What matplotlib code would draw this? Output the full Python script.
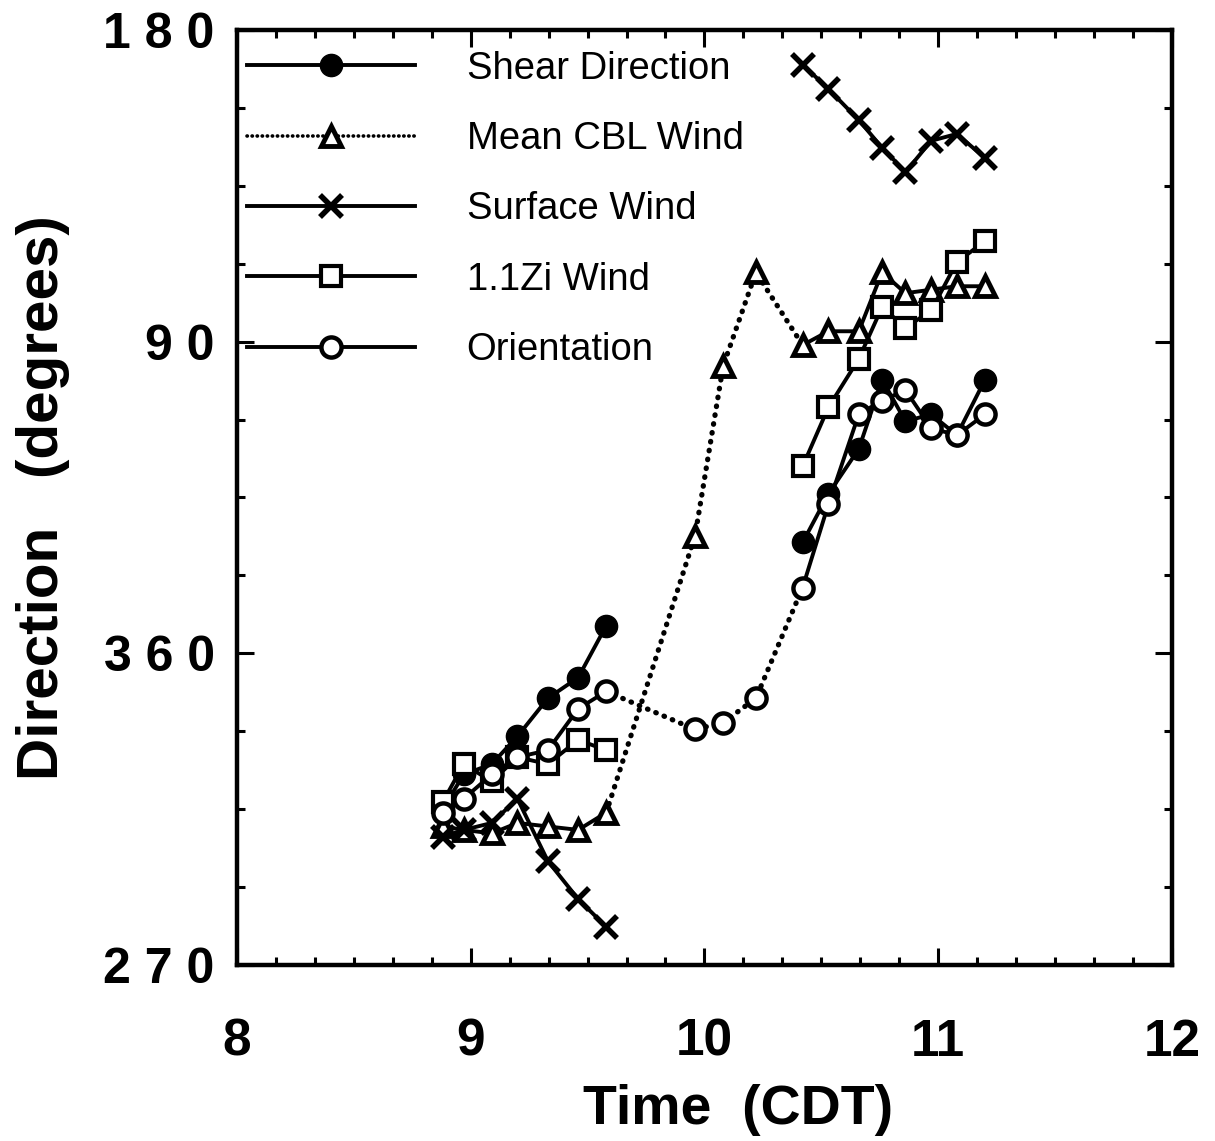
import matplotlib
matplotlib.use("Agg")
import matplotlib.pyplot as plt
import numpy as np
from matplotlib.ticker import MultipleLocator

plt.rcParams['font.family'] = ['Liberation Sans', 'DejaVu Sans']

# times (CDT, decimal hours)
t_am = [8.88, 8.97, 9.09, 9.20, 9.33, 9.46, 9.58]
t_gap = [9.96, 10.08, 10.22]
t_pm = [10.42, 10.53, 10.66, 10.76, 10.86, 10.97, 11.08, 11.20]

# directions (compass degrees)
shear_am = [315, 325, 328, 336, 347, 353, 8]
shear_pm = [32, 46, 59, 79, 67, 69, 63, 79]

cbl_am = [310, 309, 308, 311, 310, 309, 314]
cbl_gap = [34, 83, 110]
cbl_pm = [89, 93, 93, 110, 104, 105, 106, 106]

sfc_am = [307, 309, 311, 318, 300, 289, 281]
sfc_pm = [170, 163, 154, 146, 139, 148, 150, 143]

zi_am = [317, 328, 323, 330, 328, 335, 332]
zi_pm = [54, 71, 85, 100, 94, 99, 113, 119]

orient_am = [314, 318, 325, 330, 332, 344, 349]
orient_gap = [338, 340, 347]
orient_pm = [19, 43, 69, 73, 76, 65, 63, 69]

y_ticks = [270, 360, 450, 540]
y_labels = ["2 7 0", "3 6 0", "9 0", "1 8 0"]
x_ticks = [8, 9, 10, 11, 12]
x_labels = ["8", "9", "10", "11", "12"]


def unwrap(d):
    # directions below 270 continue past 360 (0 -> 360, 90 -> 450 ...)
    d = np.asarray(d, dtype=float)
    return np.where(d < 270, d + 360, d)


fig = plt.figure(figsize=(12.15, 11.41), dpi=100)
ax = fig.add_axes([0.195, 0.1543, 0.7696, 0.8194])

lw = 2.8
solid = dict(color='black', lw=lw)
dots = dict(color='black', lw=3.8, linestyle=(0, (0.1, 1.6)), dash_capstyle='round')
leg_dots = dict(color='black', lw=2.6, linestyle=(0, (0.1, 1.3)), dash_capstyle='round')

m_shear = dict(marker='o', ms=16, mfc='black', mec='black')
m_cbl = dict(marker='^', ms=14, mfc='white', mec='black', mew=3.5)
m_sfc = dict(marker='x', ms=16, mec='black', mew=4)
m_zi = dict(marker='s', ms=15, mfc='white', mec='black', mew=3)
m_or = dict(marker='o', ms=14.5, mfc='white', mec='black', mew=3.2)

# gap bridges (dotted)
ax.plot([t_am[-1]] + t_gap + [t_pm[0]],
        unwrap([cbl_am[-1]] + cbl_gap + [cbl_pm[0]]), **dots, zorder=2)
ax.plot([t_am[-1]] + t_gap + [t_pm[0]],
        unwrap([orient_am[-1]] + orient_gap + [orient_pm[0]]), **dots, zorder=2)
ax.plot(t_gap, unwrap(cbl_gap), linestyle='none', **m_cbl, zorder=4)
ax.plot(t_gap, unwrap(orient_gap), linestyle='none', **m_or, zorder=4)

series = [
    (shear_am, shear_pm, m_shear, 'Shear Direction', '-'),
    (cbl_am, cbl_pm, m_cbl, 'Mean CBL Wind', ':'),
    (sfc_am, sfc_pm, m_sfc, 'Surface Wind', '-'),
    (zi_am, zi_pm, m_zi, '1.1Zi Wind', '-'),
    (orient_am, orient_pm, m_or, 'Orientation', '-'),
]

handles = []
for am, pm, mk, name, ls in series:
    ax.plot(t_am, unwrap(am), **solid, **mk, zorder=3)
    ax.plot(t_pm, unwrap(pm), **solid, **mk, zorder=3)
    if ls == ':':
        h, = ax.plot([], [], **leg_dots, **mk, label=name)
    else:
        h, = ax.plot([], [], **solid, **mk, label=name)
    handles.append(h)

leg = ax.legend(handles=handles, loc='upper left', bbox_to_anchor=(0.0107, 0.978),
                frameon=False, fontsize=27.5, handlelength=4.4, handletextpad=1.35,
                labelspacing=0.9, borderpad=0, borderaxespad=0)

ax.set_xlim(8, 12)
ax.set_ylim(270, 540)
ax.set_xticks(x_ticks)
ax.set_xticklabels(x_labels, fontsize=37, fontweight='bold')
ax.set_yticks(y_ticks)
ax.set_yticklabels(y_labels, fontsize=36, fontweight='bold')
ax.xaxis.set_minor_locator(MultipleLocator(1 / 6))
ax.yaxis.set_minor_locator(MultipleLocator(22.5))

ax.tick_params(which='both', direction='in', top=True, right=True, width=2.2)
ax.tick_params(which='major', length=12)
ax.tick_params(which='minor', length=6)
ax.tick_params(axis='x', which='major', pad=38)
ax.tick_params(axis='y', which='major', pad=16)
for s in ax.spines.values():
    s.set_linewidth(3.2)

ax.set_xlabel("Time  (CDT)", fontsize=40, fontweight='bold', va='center')
ax.xaxis.set_label_coords(0.536, -0.155)
ax.set_ylabel("Direction   (degrees)", fontsize=42, fontweight='bold', labelpad=24)

fig.savefig("out.png", dpi=100)
